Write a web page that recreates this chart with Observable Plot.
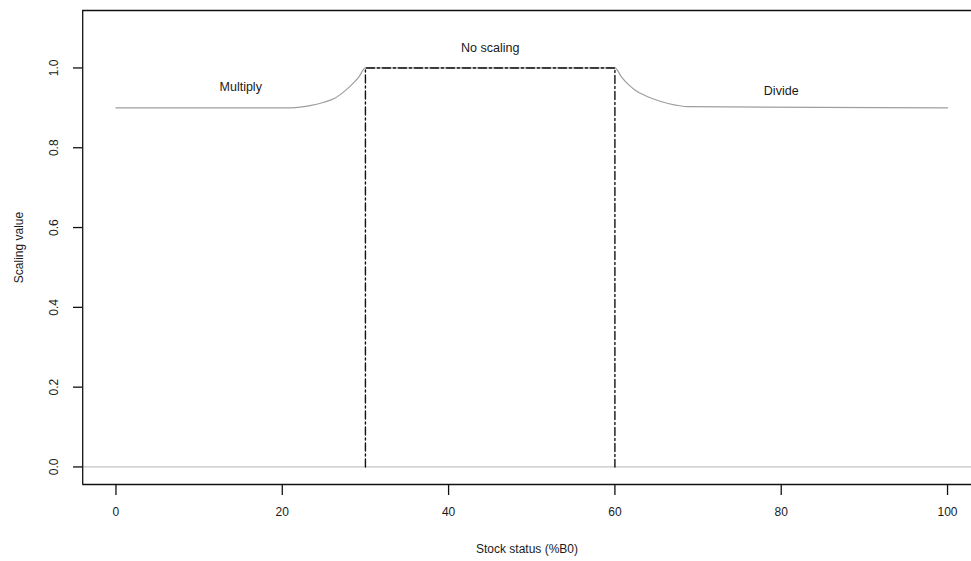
<!DOCTYPE html>
<html>
<head>
<meta charset="utf-8">
<script src="https://cdn.jsdelivr.net/npm/d3@7"></script>
<script src="https://cdn.jsdelivr.net/npm/@observablehq/plot@0.6"></script>
<style>
  html, body { margin: 0; padding: 0; background: #fff; }
  svg { font-family: "Liberation Sans", Arial, sans-serif; }
</style>
</head>
<body>
<div id="chart"></div>
<script>
// Scaling curve (grey)
const curveX = [0, 21, 23.5, 25, 26.3, 27.5, 28.3, 29.2, 30, 60, 60.8, 61.7, 62.4, 63.5, 64.4, 66.4, 68.8, 100];
const curveY = [0.9, 0.9, 0.906, 0.914, 0.924, 0.942, 0.957, 0.977, 1.0, 1.0, 0.977, 0.957, 0.945, 0.932, 0.924, 0.911, 0.903, 0.9];
// "No scaling" window (black dash-dot)
const windowX = [30, 30, 60, 60];
const windowY = [0, 1, 1, 0];
// Labels
const labelText = ["Multiply", "No scaling", "Divide"];
const labelX = [15, 45, 80];
const labelY = [0.952, 1.05, 0.942];
// Ticks
const xTicks = [0, 20, 40, 60, 80, 100];
const yTicks = [0, 0.2, 0.4, 0.6, 0.8, 1.0];
const xDomain = [-4, 104];
const yDomain = [-0.044, 1.144];

const curve = curveX.map((x, i) => ({x, y: curveY[i]}));
const win = windowX.map((x, i) => ({x, y: windowY[i]}));
const labels = labelText.map((t, i) => ({t, x: labelX[i], y: labelY[i]}));

const chart = Plot.plot({
  width: 971,
  height: 561,
  marginLeft: 82,
  marginTop: 10,
  marginBottom: 77,
  marginRight: 0,
  style: {fontFamily: "'Liberation Sans', Arial, sans-serif", fontSize: "12px", color: "#1a1a1a", background: "#fff"},
  x: {domain: xDomain, range: [82.2, 980.3]},
  y: {domain: yDomain, range: [484, 10]},
  marks: [
    Plot.ruleY([0], {x1: xDomain[0], x2: xDomain[1], stroke: "#c4c4c4", strokeWidth: 1.3}),
    Plot.line(curve, {x: "x", y: "y", stroke: "#9e9e9e", strokeWidth: 1.2, curve: "monotone-x"}),
    Plot.line(win, {x: "x", y: "y", stroke: "#111", strokeWidth: 1.4, strokeDasharray: "8,3,2,3"}),
    Plot.text(labels, {x: "x", y: "y", text: "t", fontSize: 12.5, fill: "#1a1a1a"}),
    // box
    Plot.ruleX([xDomain[0]], {y1: yDomain[0], y2: yDomain[1], stroke: "#111", strokeWidth: 1.3}),
    Plot.ruleX([xDomain[1]], {y1: yDomain[0], y2: yDomain[1], stroke: "#111", strokeWidth: 1.3}),
    Plot.ruleY([yDomain[0]], {x1: xDomain[0], x2: xDomain[1], stroke: "#111", strokeWidth: 1.3}),
    Plot.ruleY([yDomain[1]], {x1: xDomain[0], x2: xDomain[1], stroke: "#111", strokeWidth: 1.3}),
    Plot.axisX({ticks: xTicks, tickSize: 11, tickPadding: 12, tickFormat: d => String(d), stroke: "#111", strokeWidth: 1.3, fontSize: 12,
      label: "Stock status (%B0)", labelAnchor: "center", labelArrow: "none", labelOffset: 68}),
    Plot.axisY({ticks: yTicks, tickSize: 9, tickPadding: 16, tickFormat: d3.format(".1f"), tickRotate: -90, stroke: "#111", strokeWidth: 1.3, fontSize: 12,
      label: "Scaling value", labelAnchor: "center", labelArrow: "none", labelOffset: 68})
  ]
});
document.getElementById("chart").appendChild(chart);
</script>
</body>
</html>
